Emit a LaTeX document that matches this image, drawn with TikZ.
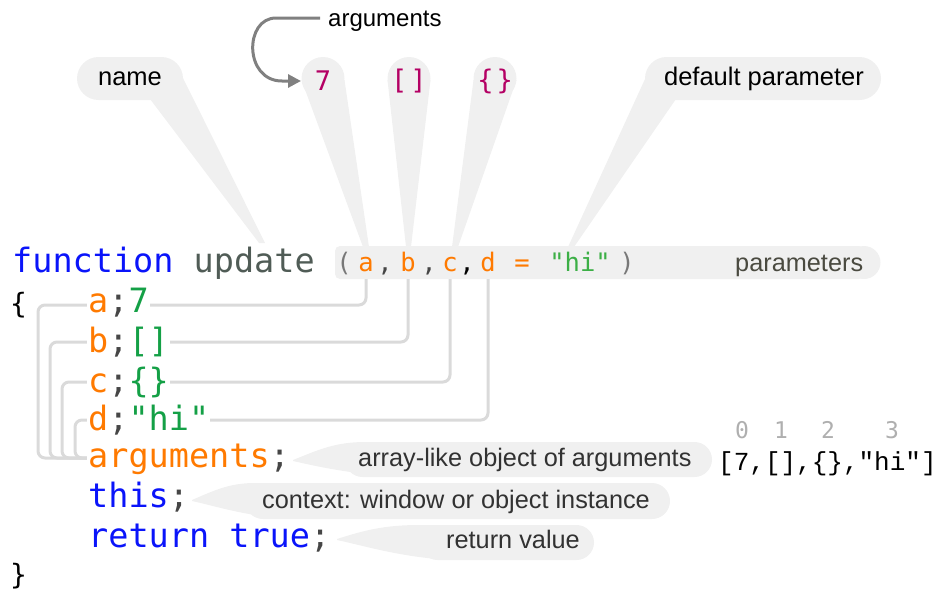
\documentclass[tikz,border=0pt]{standalone}
\usepackage{fontspec}
\setmainfont{Liberation Sans}
\newfontfamily\codefont{DejaVu Sans Mono}
\newfontfamily\arrfont{Liberation Mono}
\usetikzlibrary{arrows.meta}
\definecolor{bub}{RGB}{240,240,240}
\definecolor{connc}{RGB}{218,218,218}
\definecolor{kw}{RGB}{10,20,250}
\definecolor{fnname}{RGB}{80,92,86}
\definecolor{org}{RGB}{255,122,0}
\definecolor{grn}{RGB}{20,160,70}
\definecolor{lgrn}{RGB}{60,175,70}
\definecolor{mag}{RGB}{180,0,100}
\definecolor{semi}{RGB}{70,70,70}
\definecolor{pgray}{RGB}{120,120,120}
\definecolor{lbl}{RGB}{50,50,50}
\definecolor{plbl}{RGB}{74,74,64}
\definecolor{idx}{RGB}{175,175,175}
\definecolor{arrc}{RGB}{128,128,128}
\begin{document}
\begin{tikzpicture}[x=1pt,y=-1pt,
  code/.style={font=\codefont\fontsize{33.5}{40}\selectfont, anchor=base west, inner sep=1pt},
  rowc/.style={code, fill=white},
  bracec/.style={font=\codefont\fontsize{28}{32}\selectfont, anchor=base west, inner sep=0pt},
  ptok/.style={font=\codefont\fontsize{25.5}{30}\selectfont, anchor=base, inner sep=0pt},
  lbltext/.style={font=\fontsize{25.3}{30}\selectfont, anchor=base west, inner sep=0pt, text=lbl},
  toplbl/.style={font=\fontsize{25.5}{30}\selectfont, inner sep=0pt, text=black},
  bubtok/.style={font=\codefont\fontsize{27}{32}\selectfont, text=mag, inner sep=0pt},
  idxs/.style={font=\codefont\fontsize{23}{28}\selectfont, text=idx, anchor=base, inner sep=0pt},
  connline/.style={draw=connc, line width=3, rounded corners=7},
  bubble/.style={fill=bub},
]
\useasboundingbox (0,0) rectangle (940,589);

% ---------- top bubbles ----------
\fill[bubble, rounded corners=21.5] (77,57) rectangle (183,100);
\fill[bubble] (150,99) -- (183,78) -- (265,243) -- (259,243) -- cycle;

\fill[bubble] (323,78.5) circle[radius=21.5];
\fill[bubble] (301.5,80) -- (344.5,80) -- (369,247) -- (363,247) -- cycle;
\fill[bubble] (409,78.5) circle[radius=21.5];
\fill[bubble] (387.5,80) -- (430.5,80) -- (411,247) -- (406,247) -- cycle;
\fill[bubble] (495,78.5) circle[radius=21.5];
\fill[bubble] (473.5,80) -- (516.5,80) -- (458,247) -- (452,247) -- cycle;

\fill[bubble, rounded corners=21.5] (645,57) rectangle (881,100);
\fill[bubble] (645,79) -- (676,99) -- (574,247) -- (568,247) -- cycle;

% ---------- parameters box ----------
\fill[bubble, rounded corners=5] (335,246) rectangle (864,279);
\fill[bubble] (864,262.5) circle[radius=16.5];
\coordinate (pbot) at (0,279);

% ---------- bottom bubbles ----------
\fill[bubble, rounded corners=17.5] (345,442) rectangle (712,477);
\fill[bubble] (293,460) .. controls (318,450) and (335,442) .. (365,442) -- (400,442) -- (400,477) .. controls (350,474) and (315,466) .. (293,461) -- cycle;
\fill[bubble, rounded corners=18] (245,483) rectangle (670,519);
\fill[bubble] (192,500) .. controls (215,490) and (230,483) .. (255,483) -- (290,483) -- (290,519) .. controls (245,516) and (215,506) .. (192,501) -- cycle;
\fill[bubble, rounded corners=17.5] (420,525) rectangle (594,560);
\fill[bubble] (337,539) .. controls (365,530) and (385,525) .. (420,525) -- (450,525) -- (450,560) .. controls (400,557) and (365,546) .. (337,540) -- cycle;

% ---------- parameter tokens ----------
\node[ptok, text=pgray] (popen) at (344,271) {(};
\node[ptok, text=org] (pa) at (366,271) {a};
\node[ptok, text=semi] (pc1) at (385,271) {,};
\node[ptok, text=org] (pb) at (408,271) {b};
\node[ptok, text=semi] (pc2) at (429,271) {,};
\node[ptok, text=org] (pc) at (450,271) {c};
\node[ptok, text=black] (pc3) at (467,271) {,};
\node[ptok, text=org] (pd) at (488,271) {d};
\node[ptok, text=org] (peq) at (522,271) {=};
\node[ptok, text=lgrn] (phi) at (580,271) {"hi"};
\node[ptok, text=pgray] (pclose) at (627,271) {)};

% ---------- connectors ----------
\coordinate (ka) at (38,305);
\coordinate (kb) at (50,342);
\coordinate (kc) at (62,382);
\coordinate (kd) at (75,420);
\coordinate (argin) at (89,458);
\draw[connline] (pa |- pbot) |- (ka) |- (argin);
\draw[connline] (pb |- pbot) |- (kb) |- (argin);
\draw[connline] (pc |- pbot) |- (kc) |- (argin);
\draw[connline] (pd |- pbot) |- (kd) |- (argin);

% ---------- code ----------
\node[code] (fn) at (11,272) {\textcolor{kw}{function} \textcolor{fnname}{update}};
\node[bracec] (lbr) at (10,313) {\{};
\node[rowc] (ra) at (87,312) {\textcolor{org}{a}\textcolor{semi}{;}\textcolor{grn}{7}};
\node[rowc] (rb) at (87,352) {\textcolor{org}{b}\textcolor{semi}{;}\textcolor{grn}{[]}};
\node[rowc] (rc) at (87,392) {\textcolor{org}{c}\textcolor{semi}{;}\textcolor{grn}{\{\}}};
\node[rowc] (rd) at (87,430) {\textcolor{org}{d}\textcolor{semi}{;}\textcolor{grn}{"hi"}};
\node[rowc] (rargs) at (87,467) {\textcolor{org}{arguments}\textcolor{semi}{;}};
\node[rowc] (rthis) at (87,507) {\textcolor{kw}{this}\textcolor{semi}{;}};
\node[rowc] (rret) at (87,547) {\textcolor{kw}{return true}\textcolor{semi}{;}};
\node[bracec] (rbr) at (10,584) {\}};

% ---------- labels ----------
\node[toplbl] (lname) at (130,79) {name};
\node[toplbl] (ldef) at (764,79) {default parameter};
\node[toplbl, anchor=base west, font=\fontsize{24}{28}\selectfont] (largs) at (328,27) {arguments};
\node[bubtok] (t7) at (323,81) {7};
\node[bubtok] (tb) at (409,81) {[\hspace{3pt}]};
\node[bubtok] (tc) at (495,81) {\{\hspace{3pt}\}};
\node[lbltext, text=plbl] (lparam) at (735,271) {parameters};
\node[lbltext] (larr) at (358,466) {array-like object of arguments};
\node[lbltext] (lctx) at (262,508) {context: window or object instance};
\node[lbltext] (lret) at (446,548) {return value};

% ---------- array ----------
\node[font=\arrfont\fontsize{26}{30}\selectfont, anchor=base west, inner sep=0pt] (arr) at (718,470) {[7,[],\{\},"hi"]};
\node[idxs] (i0) at (742,438) {0};
\node[idxs] (i1) at (781,438) {1};
\node[idxs] (i2) at (828,438) {2};
\node[idxs] (i3) at (892,438) {3};

% ---------- arguments arrow ----------
\coordinate (aS) at (320,18);
\coordinate (aE) at (301,81);
\draw[draw=arrc, line width=3, -{Triangle[length=13,width=13]}] (aS) -- (276,18) .. controls (244,18) and (244,81) .. (282,81) -- (aE);
\end{tikzpicture}
\end{document}
